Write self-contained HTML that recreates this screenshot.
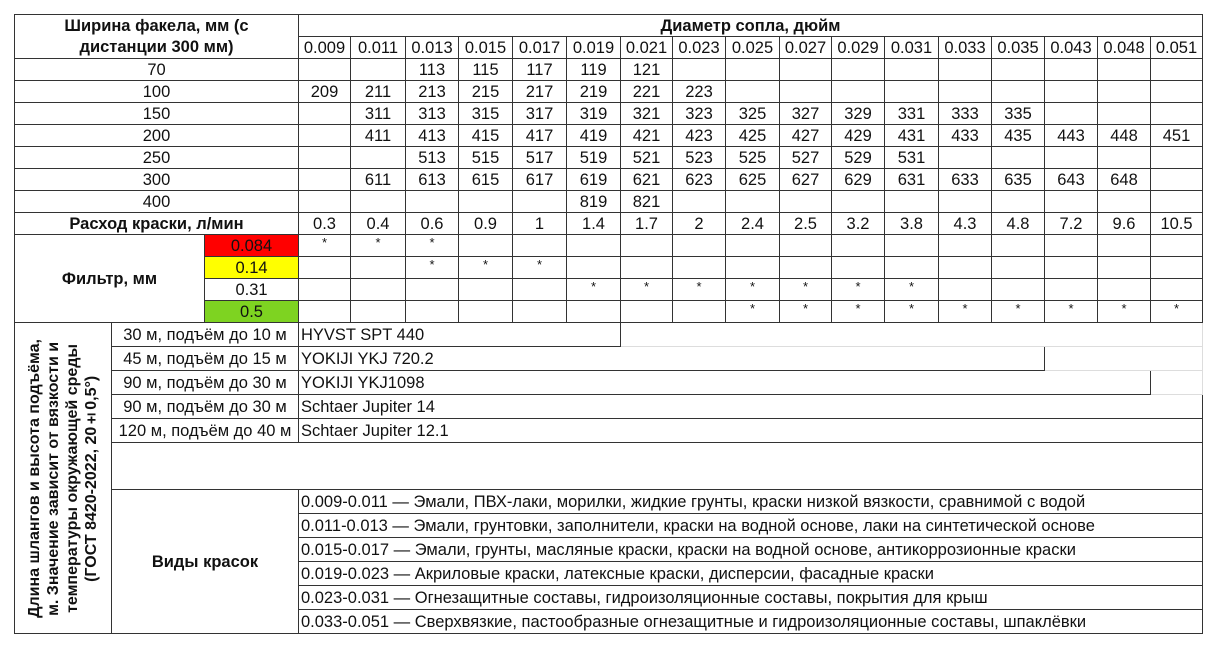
<!DOCTYPE html>
<html><head><meta charset="utf-8"><style>
body{margin:0;background:#fff;width:1217px;height:649px;overflow:hidden;font-family:"Liberation Sans",Arial,sans-serif;color:#111}
table{position:absolute;left:14px;top:14px;border-collapse:collapse;table-layout:fixed;font-size:16.5px}
td{border:1px solid #333;padding:0;text-align:center;height:21px;line-height:20px;white-space:nowrap;overflow:hidden}
.b{font-weight:bold}
.s td.d{vertical-align:top;font-size:13px;line-height:15px}
.h td{height:23px}
.l{text-align:left;padding-left:2px}
.g{border-top-color:#ddd;border-right-color:#ddd;border-bottom-color:#ddd}
.v{vertical-align:middle}
.vt{writing-mode:vertical-rl;transform:rotate(180deg);font-weight:bold;font-size:16px;line-height:19px;text-align:center;margin:auto;white-space:nowrap}
</style></head><body>
<table>
<colgroup><col style="width:97px"><col style="width:93px"><col style="width:94px">
<col style="width:52px"><col style="width:55px"><col style="width:53px"><col style="width:54px"><col style="width:54px"><col style="width:54px"><col style="width:52px"><col style="width:53px"><col style="width:54px"><col style="width:52px"><col style="width:53px"><col style="width:54px"><col style="width:53px"><col style="width:53px"><col style="width:53px"><col style="width:53px"><col style="width:52px"></colgroup>
<tr><td colspan="3" rowspan="2" class="b" style="line-height:21px">Ширина факела, мм (с<br>дистанции 300 мм)</td><td colspan="17" class="b">Диаметр сопла, дюйм</td></tr>
<tr><td>0.009</td><td>0.011</td><td>0.013</td><td>0.015</td><td>0.017</td><td>0.019</td><td>0.021</td><td>0.023</td><td>0.025</td><td>0.027</td><td>0.029</td><td>0.031</td><td>0.033</td><td>0.035</td><td>0.043</td><td>0.048</td><td>0.051</td></tr>
<tr><td colspan="3">70</td><td></td><td></td><td>113</td><td>115</td><td>117</td><td>119</td><td>121</td><td></td><td></td><td></td><td></td><td></td><td></td><td></td><td></td><td></td><td></td></tr>
<tr><td colspan="3">100</td><td>209</td><td>211</td><td>213</td><td>215</td><td>217</td><td>219</td><td>221</td><td>223</td><td></td><td></td><td></td><td></td><td></td><td></td><td></td><td></td><td></td></tr>
<tr><td colspan="3">150</td><td></td><td>311</td><td>313</td><td>315</td><td>317</td><td>319</td><td>321</td><td>323</td><td>325</td><td>327</td><td>329</td><td>331</td><td>333</td><td>335</td><td></td><td></td><td></td></tr>
<tr><td colspan="3">200</td><td></td><td>411</td><td>413</td><td>415</td><td>417</td><td>419</td><td>421</td><td>423</td><td>425</td><td>427</td><td>429</td><td>431</td><td>433</td><td>435</td><td>443</td><td>448</td><td>451</td></tr>
<tr><td colspan="3">250</td><td></td><td></td><td>513</td><td>515</td><td>517</td><td>519</td><td>521</td><td>523</td><td>525</td><td>527</td><td>529</td><td>531</td><td></td><td></td><td></td><td></td><td></td></tr>
<tr><td colspan="3">300</td><td></td><td>611</td><td>613</td><td>615</td><td>617</td><td>619</td><td>621</td><td>623</td><td>625</td><td>627</td><td>629</td><td>631</td><td>633</td><td>635</td><td>643</td><td>648</td><td></td></tr>
<tr><td colspan="3">400</td><td></td><td></td><td></td><td></td><td></td><td>819</td><td>821</td><td></td><td></td><td></td><td></td><td></td><td></td><td></td><td></td><td></td><td></td></tr>
<tr><td colspan="3" class="b">Расход краски, л/мин</td><td>0.3</td><td>0.4</td><td>0.6</td><td>0.9</td><td>1</td><td>1.4</td><td>1.7</td><td>2</td><td>2.4</td><td>2.5</td><td>3.2</td><td>3.8</td><td>4.3</td><td>4.8</td><td>7.2</td><td>9.6</td><td>10.5</td></tr>
<tr class="s"><td colspan="2" rowspan="4" class="b v">Фильтр, мм</td><td style="background:#f00">0.084</td><td class="d">*</td><td class="d">*</td><td class="d">*</td><td></td><td></td><td></td><td></td><td></td><td></td><td></td><td></td><td></td><td></td><td></td><td></td><td></td><td></td></tr>
<tr class="s"><td style="background:#ff0">0.14</td><td></td><td></td><td class="d">*</td><td class="d">*</td><td class="d">*</td><td></td><td></td><td></td><td></td><td></td><td></td><td></td><td></td><td></td><td></td><td></td><td></td></tr>
<tr class="s"><td>0.31</td><td></td><td></td><td></td><td></td><td></td><td class="d">*</td><td class="d">*</td><td class="d">*</td><td class="d">*</td><td class="d">*</td><td class="d">*</td><td class="d">*</td><td></td><td></td><td></td><td></td><td></td></tr>
<tr class="s"><td style="background:#7ed321">0.5</td><td></td><td></td><td></td><td></td><td></td><td></td><td></td><td></td><td class="d">*</td><td class="d">*</td><td class="d">*</td><td class="d">*</td><td class="d">*</td><td class="d">*</td><td class="d">*</td><td class="d">*</td><td class="d">*</td></tr>
<tr class="h"><td rowspan="12" class="v"><div class="vt">Длина шлангов и высота подъёма,<br>м. Значение зависит от вязкости и<br>температуры окружающей среды<br>(ГОСТ 8420-2022, 20±0,5°)</div></td><td colspan="2">30 м, подъём до 10 м</td><td colspan="6" class="l">HYVST SPT 440</td><td colspan="11" class="g"></td></tr>
<tr class="h"><td colspan="2">45 м, подъём до 15 м</td><td colspan="14" class="l">YOKIJI YKJ 720.2</td><td colspan="3" class="g"></td></tr>
<tr class="h"><td colspan="2">90 м, подъём до 30 м</td><td colspan="16" class="l">YOKIJI YKJ1098</td><td class="g"></td></tr>
<tr class="h"><td colspan="2">90 м, подъём до 30 м</td><td colspan="17" class="l">Schtaer Jupiter 14</td></tr>
<tr class="h"><td colspan="2">120 м, подъём до 40 м</td><td colspan="17" class="l">Schtaer Jupiter 12.1</td></tr>
<tr><td colspan="19" style="height:46px"></td></tr>
<tr class="h"><td colspan="2" rowspan="6" class="b v">Виды красок</td><td colspan="17" class="l">0.009-0.011 — Эмали, ПВХ-лаки, морилки, жидкие грунты, краски низкой вязкости, сравнимой с водой</td></tr>
<tr class="h"><td colspan="17" class="l">0.011-0.013 — Эмали, грунтовки, заполнители, краски на водной основе, лаки на синтетической основе</td></tr>
<tr class="h"><td colspan="17" class="l">0.015-0.017 — Эмали, грунты, масляные краски, краски на водной основе, антикоррозионные краски</td></tr>
<tr class="h"><td colspan="17" class="l">0.019-0.023 — Акриловые краски, латексные краски, дисперсии, фасадные краски</td></tr>
<tr class="h"><td colspan="17" class="l">0.023-0.031 — Огнезащитные составы, гидроизоляционные составы, покрытия для крыш</td></tr>
<tr class="h"><td colspan="17" class="l">0.033-0.051 — Сверхвязкие, пастообразные огнезащитные и гидроизоляционные составы, шпаклёвки</td></tr>
</table>
</body></html>
